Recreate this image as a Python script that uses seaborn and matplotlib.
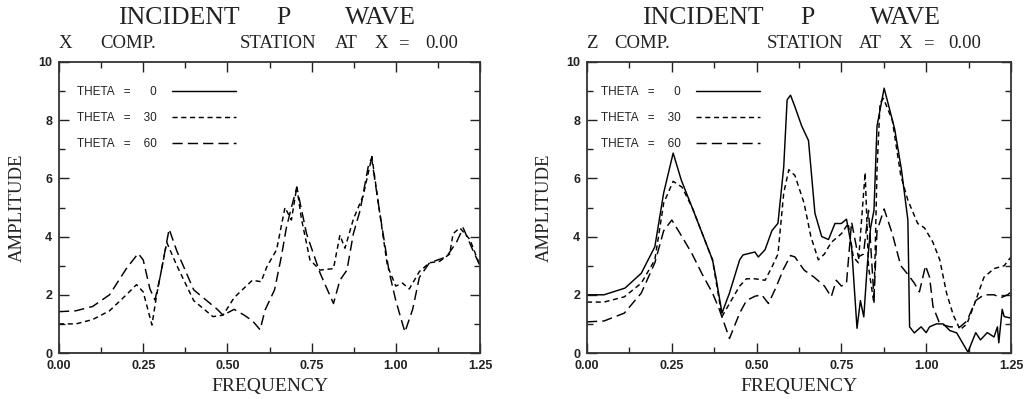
import numpy as np
import pandas as pd
import matplotlib
matplotlib.use("Agg")
import matplotlib.pyplot as plt
import seaborn as sns

# ---------------- data ----------------
theta_labels = ["THETA   =      0", "THETA   =    30", "THETA   =    60"]

# X component
x_f0 = [0.0, 1.25]
x_a0 = [0.0, 0.0]

x_f30 = [0.0, 0.05, 0.1, 0.15, 0.2, 0.23, 0.25, 0.276, 0.29, 0.31, 0.32, 0.35, 0.4, 0.457,
         0.487, 0.52, 0.544, 0.574, 0.6, 0.617, 0.646, 0.671, 0.69, 0.706, 0.72, 0.745, 0.775,
         0.815, 0.834, 0.849, 0.874, 0.903, 0.929, 0.95, 0.975, 1.0, 1.02, 1.04, 1.07, 1.1,
         1.13, 1.16, 1.17, 1.19, 1.22, 1.25]
x_a30 = [1.0, 1.0, 1.15, 1.45, 2.0, 2.35, 2.1, 0.96, 2.0, 3.2, 3.8, 3.0, 1.8, 1.25,
         1.3, 1.9, 2.17, 2.5, 2.45, 2.96, 3.55, 5.0, 4.57, 5.7, 4.6, 3.2, 2.85,
         2.9, 4.05, 3.6, 4.6, 5.4, 6.75, 5.0, 3.0, 2.3, 2.4, 2.2, 2.8, 3.1,
         3.15, 3.4, 4.1, 4.3, 3.9, 3.0]

x_f60 = [0.0, 0.05, 0.1, 0.15, 0.2, 0.235, 0.25, 0.27, 0.285, 0.3, 0.327, 0.35, 0.4, 0.47,
         0.487, 0.52, 0.55, 0.575, 0.597, 0.612, 0.64, 0.66, 0.675, 0.69, 0.706, 0.735,
         0.775, 0.815, 0.834, 0.855, 0.874, 0.894, 0.918, 0.928, 0.95, 0.98, 1.0, 1.027,
         1.05, 1.07, 1.1, 1.15, 1.18, 1.2, 1.23, 1.25]
x_a60 = [1.42, 1.45, 1.6, 2.0, 2.9, 3.42, 3.2, 2.2, 1.82, 2.6, 4.26, 3.5, 2.17, 1.5,
         1.3, 1.5, 1.3, 1.1, 0.8, 1.48, 2.17, 3.3, 4.3, 5.0, 5.7, 4.1,
         2.75, 1.7, 2.5, 2.85, 4.1, 4.9, 6.4, 6.7, 5.0, 2.8, 1.8, 0.72,
         1.5, 2.6, 3.1, 3.3, 3.8, 4.3, 3.5, 3.0]

# Z component
z_f0 = [0.0, 0.05, 0.112, 0.16, 0.2, 0.226, 0.254, 0.278, 0.31, 0.34, 0.37, 0.38, 0.398, 0.42,
        0.45, 0.46, 0.495, 0.505, 0.525, 0.545, 0.563, 0.58, 0.59, 0.6, 0.613, 0.633, 0.653,
        0.672, 0.692, 0.712, 0.731, 0.75, 0.765, 0.78, 0.796, 0.806, 0.816, 0.826, 0.836,
        0.846, 0.855, 0.876, 0.907, 0.927, 0.946, 0.951, 0.965, 0.985, 1.0, 1.01, 1.03,
        1.05, 1.07, 1.09, 1.123, 1.146, 1.16, 1.18, 1.2, 1.21, 1.214, 1.224, 1.23, 1.25]
z_a0 = [2.0, 2.0, 2.23, 2.74, 3.65, 5.5, 6.87, 5.94, 5.0, 4.1, 3.2, 2.6, 1.37, 2.06,
        3.2, 3.37, 3.47, 3.3, 3.55, 4.2, 4.46, 6.4, 8.7, 8.86, 8.46, 7.8, 7.3,
        4.8, 4.0, 3.9, 4.45, 4.45, 4.6, 3.65, 0.85, 1.8, 1.24, 2.96, 4.3,
        4.9, 7.8, 9.1, 7.7, 6.3, 4.57, 0.9, 0.69, 0.9, 0.7, 0.9, 1.0,
        1.0, 0.77, 0.69, 0.03, 0.7, 0.45, 0.7, 0.55, 0.9, 0.35, 1.5, 1.25, 1.2]

z_f30 = [0.0, 0.05, 0.11, 0.16, 0.2, 0.226, 0.254, 0.28, 0.31, 0.34, 0.37, 0.398, 0.42, 0.45,
         0.47, 0.495, 0.525, 0.545, 0.563, 0.58, 0.595, 0.613, 0.64, 0.66, 0.682, 0.7, 0.72,
         0.75, 0.77, 0.785, 0.8, 0.82, 0.83, 0.846, 0.855, 0.864, 0.874, 0.9, 0.925, 0.946,
         0.975, 0.995, 1.01, 1.02, 1.04, 1.06, 1.08, 1.1, 1.12, 1.146, 1.17, 1.2, 1.23, 1.25]
z_a30 = [1.75, 1.75, 1.93, 2.4, 3.2, 5.15, 5.9, 5.7, 5.0, 4.1, 3.2, 1.25, 1.7, 2.3,
         2.55, 2.55, 2.5, 2.95, 3.4, 5.5, 6.3, 6.1, 5.15, 4.0, 3.2, 3.4, 3.8,
         4.1, 4.45, 3.3, 3.1, 6.2, 2.95, 1.7, 6.3, 8.6, 8.75, 8.0, 6.1, 5.25,
         4.45, 4.3, 4.0, 3.8, 3.2, 2.06, 1.3, 0.8, 1.0, 1.8, 2.6, 2.9, 3.0, 3.3]

z_f60 = [0.0, 0.05, 0.11, 0.16, 0.2, 0.226, 0.25, 0.28, 0.31, 0.34, 0.37, 0.39, 0.42, 0.45,
         0.47, 0.495, 0.515, 0.535, 0.555, 0.58, 0.6, 0.613, 0.64, 0.67, 0.7, 0.72, 0.735,
         0.75, 0.765, 0.78, 0.8, 0.815, 0.83, 0.846, 0.855, 0.876, 0.9, 0.925, 0.946, 0.965,
         0.98, 0.998, 1.01, 1.02, 1.04, 1.07, 1.1, 1.12, 1.146, 1.17, 1.2, 1.22, 1.24, 1.25]
z_a60 = [1.07, 1.1, 1.37, 2.06, 3.1, 4.2, 4.57, 4.0, 3.4, 2.7, 2.06, 1.5, 0.5, 1.37,
         1.8, 1.95, 2.0, 1.7, 2.2, 2.9, 3.35, 3.3, 2.85, 2.6, 2.3, 1.93, 2.5,
         2.3, 2.4, 4.5, 3.3, 3.4, 4.9, 1.9, 4.2, 4.95, 4.1, 3.0, 2.7, 2.4,
         2.1, 3.0, 2.6, 1.6, 1.0, 0.9, 0.9, 1.1, 1.8, 2.0, 2.0, 1.9, 2.0, 2.1]

x_ticks = [0.0, 0.25, 0.5, 0.75, 1.0, 1.25]
x_ticklabels = ["0.00", "0.25", "0.50", "0.75", "1.00", "1.25"]
y_ticks = [0, 2, 4, 6, 8, 10]
y_ticklabels = ["0", "2", "4", "6", "8", "10"]

# ---------------- style ----------------
sns.set_theme(style="ticks")
plt.rcParams["font.family"] = ["Liberation Sans", "DejaVu Sans"]
SERIF = ["Liberation Serif", "DejaVu Serif"]

W, H = 1028, 399
fig = plt.figure(figsize=(W / 100, H / 100), dpi=100)


def px_axes(x0, x1, y0, y1):
    return fig.add_axes([x0 / W, 1 - y1 / H, (x1 - x0) / W, (y1 - y0) / H])


axL = px_axes(59, 480, 62, 353)
axR = px_axes(587, 1011, 62, 353)

styles = ["-", (0, (3.5, 2.5)), (0, (7, 3.5))]


def draw(ax, series, legend_x_px, ylabel_x_px):
    for (f, a), lab, ls in zip(series, theta_labels, styles):
        sns.lineplot(x=f, y=a, ax=ax, color="black", linewidth=1.05,
                     linestyle=ls, label=lab, estimator=None, sort=False)
    ax.set_xlim(0, 1.25)
    ax.set_ylim(0, 10)
    ax.set_xticks(x_ticks)
    ax.set_xticklabels(x_ticklabels)
    ax.set_yticks(y_ticks)
    ax.set_yticklabels(y_ticklabels)
    ax.set_xticks(np.arange(0.125, 1.25, 0.25), minor=True)
    ax.set_yticks(np.arange(1, 10, 2), minor=True)
    ax.tick_params(which="both", direction="in", top=True, right=True,
                   labelsize=9, width=1.0, color="#222222", labelcolor="#222222")
    ax.tick_params(which="major", length=7, pad=5)
    ax.tick_params(which="minor", length=4)
    for s in ax.spines.values():
        s.set_linewidth(1.3)
        s.set_color("#333333")
    for lbl in ax.get_xticklabels() + ax.get_yticklabels():
        lbl.set_fontweight("bold")
    ax.set_xlabel("FREQUENCY", fontsize=14, family=SERIF, color="#222222")
    ax.set_ylabel("AMPLITUDE", fontsize=13.5, family=SERIF, color="#222222")
    ax.xaxis.set_label_coords(0.5, -0.085)
    axw = ax.get_position().width * W
    ax.yaxis.set_label_coords(ylabel_x_px / axw, 0.5)
    leg = ax.legend(loc="upper left", frameon=False, markerfirst=False,
                    bbox_to_anchor=(legend_x_px / axw, 0.918), borderaxespad=0,
                    borderpad=0, fontsize=8.5, handlelength=5.4, handletextpad=1.3,
                    labelspacing=1.2)
    for t in leg.get_texts():
        t.set_color("#222222")


draw(axL, [(x_f0, x_a0), (x_f30, x_a30), (x_f60, x_a60)], 18, 26 - 59)
draw(axR, [(z_f0, z_a0), (z_f30, z_a30), (z_f60, z_a60)], 14, 553 - 587)


def word(x_px, y_px, s, size, ha="left"):
    fig.text(x_px / W, 1 - y_px / H, s, fontsize=size, family=SERIF,
             ha=ha, va="center", color="#222222")


# titles
for cx, s in [(179, "INCIDENT"), (283, "P"), (380, "WAVE"),
              (703, "INCIDENT"), (807, "P"), (905, "WAVE")]:
    word(cx, 18, s, 18.5, ha="center")

# subtitles
for lx, s in [(59, "X"), (100, "COMP."), (240, "STATION"), (335, "AT"), (375, "X"),
              (398, "="), (425, "0.00"),
              (586, "Z"), (614, "COMP."), (767, "STATION"), (859, "AT"), (899, "X"),
              (923, "="), (948, "0.00")]:
    word(lx, 44, s, 13.5)

fig.savefig("out.png", dpi=100)
